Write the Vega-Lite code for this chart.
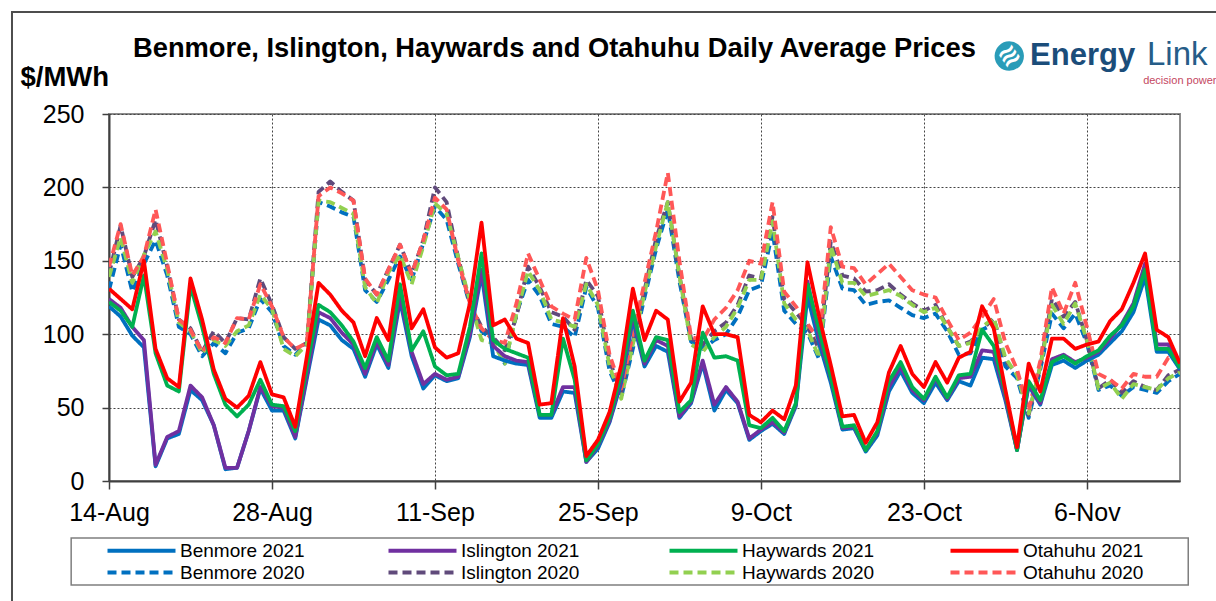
{
  "$schema": "https://vega.github.io/schema/vega-lite/v6.json",
  "width": 1071,
  "height": 367,
  "autosize": {"type": "none"},
  "padding": {"left": 109, "top": 114, "right": 36, "bottom": 120},
  "background": "white",
  "config": {
    "font": "Liberation Sans",
    "view": {"stroke": "#8c8c8c", "strokeWidth": 2},
    "axis": {"labelFont": "Liberation Sans", "titleFont": "Liberation Sans"},
    "legend": {
      "title": null,
      "orient": "none",
      "legendX": 22,
      "legendY": 426,
      "direction": "horizontal",
      "columns": 4,
      "gridAlign": "all",
      "columnPadding": 67,
      "rowPadding": 1,
      "padding": 0,
      "symbolType": "M-4,0H4",
      "symbolSize": 289,
      "symbolStrokeWidth": 4,
      "labelFontSize": 19,
      "labelFont": "Liberation Sans",
      "labelColor": "black",
      "labelOffset": 28,
      "labelLimit": 300
    }
  },
  "title": {
    "text": "Benmore, Islington, Haywards and Otahuhu Daily Average Prices",
    "font": "Liberation Sans",
    "fontSize": 27.3,
    "fontWeight": "bold",
    "color": "black",
    "anchor": "start",
    "frame": "group",
    "dx": 24,
    "dy": 55,
    "offset": 4
  },
  "data": {"values": [
    {"date":"2021-08-14","Benmore 2021":119,"Islington 2021":124,"Haywards 2021":122,"Otahuhu 2021":131,"Benmore 2020":130,"Islington 2020":141,"Haywards 2020":139,"Otahuhu 2020":146},
    {"date":"2021-08-15","Benmore 2021":112,"Islington 2021":118,"Haywards 2021":116,"Otahuhu 2021":124,"Benmore 2020":161,"Islington 2020":174,"Haywards 2020":166,"Otahuhu 2020":175},
    {"date":"2021-08-16","Benmore 2021":99,"Islington 2021":105,"Haywards 2021":105,"Otahuhu 2021":117,"Benmore 2020":129,"Islington 2020":139,"Haywards 2020":135,"Otahuhu 2020":140},
    {"date":"2021-08-17","Benmore 2021":91,"Islington 2021":96,"Haywards 2021":140,"Otahuhu 2021":150,"Benmore 2020":148,"Islington 2020":153,"Haywards 2020":154,"Otahuhu 2020":153},
    {"date":"2021-08-18","Benmore 2021":10,"Islington 2021":11,"Haywards 2021":87,"Otahuhu 2021":90,"Benmore 2020":164,"Islington 2020":178,"Haywards 2020":170,"Otahuhu 2020":185},
    {"date":"2021-08-19","Benmore 2021":29,"Islington 2021":30,"Haywards 2021":65,"Otahuhu 2021":70,"Benmore 2020":140,"Islington 2020":146,"Haywards 2020":144,"Otahuhu 2020":148},
    {"date":"2021-08-20","Benmore 2021":32,"Islington 2021":34,"Haywards 2021":61,"Otahuhu 2021":64,"Benmore 2020":105,"Islington 2020":110,"Haywards 2020":108,"Otahuhu 2020":110},
    {"date":"2021-08-21","Benmore 2021":62,"Islington 2021":65,"Haywards 2021":133,"Otahuhu 2021":138,"Benmore 2020":100,"Islington 2020":104,"Haywards 2020":102,"Otahuhu 2020":103},
    {"date":"2021-08-22","Benmore 2021":55,"Islington 2021":57,"Haywards 2021":105,"Otahuhu 2021":110,"Benmore 2020":85,"Islington 2020":88,"Haywards 2020":87,"Otahuhu 2020":88},
    {"date":"2021-08-23","Benmore 2021":38,"Islington 2021":38,"Haywards 2021":73,"Otahuhu 2021":76,"Benmore 2020":94,"Islington 2020":102,"Haywards 2020":96,"Otahuhu 2020":98},
    {"date":"2021-08-24","Benmore 2021":8,"Islington 2021":9,"Haywards 2021":52,"Otahuhu 2021":56,"Benmore 2020":87,"Islington 2020":94,"Haywards 2020":92,"Otahuhu 2020":94},
    {"date":"2021-08-25","Benmore 2021":9,"Islington 2021":9,"Haywards 2021":44,"Otahuhu 2021":50,"Benmore 2020":101,"Islington 2020":111,"Haywards 2020":102,"Otahuhu 2020":111},
    {"date":"2021-08-26","Benmore 2021":34,"Islington 2021":34,"Haywards 2021":52,"Otahuhu 2021":58,"Benmore 2020":104,"Islington 2020":110,"Haywards 2020":106,"Otahuhu 2020":110},
    {"date":"2021-08-27","Benmore 2021":63,"Islington 2021":64,"Haywards 2021":69,"Otahuhu 2021":81,"Benmore 2020":124,"Islington 2020":138,"Haywards 2020":127,"Otahuhu 2020":134},
    {"date":"2021-08-28","Benmore 2021":48,"Islington 2021":51,"Haywards 2021":52,"Otahuhu 2021":59,"Benmore 2020":115,"Islington 2020":120,"Haywards 2020":117,"Otahuhu 2020":119},
    {"date":"2021-08-29","Benmore 2021":48,"Islington 2021":50,"Haywards 2021":51,"Otahuhu 2021":57,"Benmore 2020":92,"Islington 2020":98,"Haywards 2020":90,"Otahuhu 2020":98},
    {"date":"2021-08-30","Benmore 2021":29,"Islington 2021":30,"Haywards 2021":34,"Otahuhu 2021":37,"Benmore 2020":86,"Islington 2020":90,"Haywards 2020":85,"Otahuhu 2020":90},
    {"date":"2021-08-31","Benmore 2021":70,"Islington 2021":72,"Haywards 2021":78,"Otahuhu 2021":85,"Benmore 2020":94,"Islington 2020":94,"Haywards 2020":93,"Otahuhu 2020":94},
    {"date":"2021-09-01","Benmore 2021":110,"Islington 2021":115,"Haywards 2021":120,"Otahuhu 2021":135,"Benmore 2020":190,"Islington 2020":197,"Haywards 2020":191,"Otahuhu 2020":194},
    {"date":"2021-09-02","Benmore 2021":106,"Islington 2021":111,"Haywards 2021":115,"Otahuhu 2021":127,"Benmore 2020":187,"Islington 2020":204,"Haywards 2020":190,"Otahuhu 2020":200},
    {"date":"2021-09-03","Benmore 2021":96,"Islington 2021":101,"Haywards 2021":106,"Otahuhu 2021":116,"Benmore 2020":183,"Islington 2020":197,"Haywards 2020":186,"Otahuhu 2020":196},
    {"date":"2021-09-04","Benmore 2021":90,"Islington 2021":93,"Haywards 2021":95,"Otahuhu 2021":108,"Benmore 2020":180,"Islington 2020":191,"Haywards 2020":182,"Otahuhu 2020":191},
    {"date":"2021-09-05","Benmore 2021":71,"Islington 2021":73,"Haywards 2021":77,"Otahuhu 2021":85,"Benmore 2020":130,"Islington 2020":137,"Haywards 2020":132,"Otahuhu 2020":138},
    {"date":"2021-09-06","Benmore 2021":93,"Islington 2021":95,"Haywards 2021":98,"Otahuhu 2021":111,"Benmore 2020":122,"Islington 2020":127,"Haywards 2020":121,"Otahuhu 2020":127},
    {"date":"2021-09-07","Benmore 2021":77,"Islington 2021":79,"Haywards 2021":82,"Otahuhu 2021":96,"Benmore 2020":137,"Islington 2020":144,"Haywards 2020":142,"Otahuhu 2020":144},
    {"date":"2021-09-08","Benmore 2021":123,"Islington 2021":126,"Haywards 2021":134,"Otahuhu 2021":149,"Benmore 2020":153,"Islington 2020":161,"Haywards 2020":154,"Otahuhu 2020":161},
    {"date":"2021-09-09","Benmore 2021":85,"Islington 2021":88,"Haywards 2021":89,"Otahuhu 2021":104,"Benmore 2020":137,"Islington 2020":141,"Haywards 2020":134,"Otahuhu 2020":141},
    {"date":"2021-09-10","Benmore 2021":63,"Islington 2021":66,"Haywards 2021":102,"Otahuhu 2021":117,"Benmore 2020":162,"Islington 2020":164,"Haywards 2020":160,"Otahuhu 2020":164},
    {"date":"2021-09-11","Benmore 2021":72,"Islington 2021":73,"Haywards 2021":78,"Otahuhu 2021":91,"Benmore 2020":187,"Islington 2020":200,"Haywards 2020":189,"Otahuhu 2020":193},
    {"date":"2021-09-12","Benmore 2021":68,"Islington 2021":69,"Haywards 2021":72,"Otahuhu 2021":84,"Benmore 2020":178,"Islington 2020":190,"Haywards 2020":182,"Otahuhu 2020":185},
    {"date":"2021-09-13","Benmore 2021":70,"Islington 2021":71,"Haywards 2021":73,"Otahuhu 2021":87,"Benmore 2020":148,"Islington 2020":152,"Haywards 2020":152,"Otahuhu 2020":150},
    {"date":"2021-09-14","Benmore 2021":98,"Islington 2021":100,"Haywards 2021":105,"Otahuhu 2021":121,"Benmore 2020":120,"Islington 2020":121,"Haywards 2020":123,"Otahuhu 2020":121},
    {"date":"2021-09-15","Benmore 2021":141,"Islington 2021":144,"Haywards 2021":155,"Otahuhu 2021":176,"Benmore 2020":102,"Islington 2020":105,"Haywards 2020":96,"Otahuhu 2020":104},
    {"date":"2021-09-16","Benmore 2021":85,"Islington 2021":92,"Haywards 2021":96,"Otahuhu 2021":106,"Benmore 2020":96,"Islington 2020":98,"Haywards 2020":94,"Otahuhu 2020":96},
    {"date":"2021-09-17","Benmore 2021":82,"Islington 2021":85,"Haywards 2021":90,"Otahuhu 2021":110,"Benmore 2020":80,"Islington 2020":89,"Haywards 2020":80,"Otahuhu 2020":94},
    {"date":"2021-09-18","Benmore 2021":80,"Islington 2021":82,"Haywards 2021":87,"Otahuhu 2021":97,"Benmore 2020":114,"Islington 2020":112,"Haywards 2020":114,"Otahuhu 2020":121},
    {"date":"2021-09-19","Benmore 2021":79,"Islington 2021":81,"Haywards 2021":84,"Otahuhu 2021":94,"Benmore 2020":137,"Islington 2020":146,"Haywards 2020":143,"Otahuhu 2020":155},
    {"date":"2021-09-20","Benmore 2021":43,"Islington 2021":45,"Haywards 2021":45,"Otahuhu 2021":52,"Benmore 2020":126,"Islington 2020":132,"Haywards 2020":130,"Otahuhu 2020":137},
    {"date":"2021-09-21","Benmore 2021":43,"Islington 2021":45,"Haywards 2021":45,"Otahuhu 2021":53,"Benmore 2020":107,"Islington 2020":115,"Haywards 2020":110,"Otahuhu 2020":119},
    {"date":"2021-09-22","Benmore 2021":61,"Islington 2021":64,"Haywards 2021":97,"Otahuhu 2021":111,"Benmore 2020":105,"Islington 2020":112,"Haywards 2020":108,"Otahuhu 2020":114},
    {"date":"2021-09-23","Benmore 2021":60,"Islington 2021":64,"Haywards 2021":69,"Otahuhu 2021":78,"Benmore 2020":98,"Islington 2020":103,"Haywards 2020":105,"Otahuhu 2020":110},
    {"date":"2021-09-24","Benmore 2021":13,"Islington 2021":13,"Haywards 2021":14,"Otahuhu 2021":17,"Benmore 2020":132,"Islington 2020":137,"Haywards 2020":134,"Otahuhu 2020":152},
    {"date":"2021-09-25","Benmore 2021":22,"Islington 2021":24,"Haywards 2021":25,"Otahuhu 2021":28,"Benmore 2020":118,"Islington 2020":126,"Haywards 2020":120,"Otahuhu 2020":130},
    {"date":"2021-09-26","Benmore 2021":40,"Islington 2021":41,"Haywards 2021":43,"Otahuhu 2021":47,"Benmore 2020":75,"Islington 2020":82,"Haywards 2020":78,"Otahuhu 2020":86},
    {"date":"2021-09-27","Benmore 2021":67,"Islington 2021":70,"Haywards 2021":73,"Otahuhu 2021":79,"Benmore 2020":57,"Islington 2020":60,"Haywards 2020":56,"Otahuhu 2020":63},
    {"date":"2021-09-28","Benmore 2021":110,"Islington 2021":113,"Haywards 2021":116,"Otahuhu 2021":131,"Benmore 2020":90,"Islington 2020":95,"Haywards 2020":93,"Otahuhu 2020":100},
    {"date":"2021-09-29","Benmore 2021":78,"Islington 2021":80,"Haywards 2021":82,"Otahuhu 2021":96,"Benmore 2020":125,"Islington 2020":130,"Haywards 2020":128,"Otahuhu 2020":135},
    {"date":"2021-09-30","Benmore 2021":92,"Islington 2021":96,"Haywards 2021":98,"Otahuhu 2021":116,"Benmore 2020":158,"Islington 2020":165,"Haywards 2020":160,"Otahuhu 2020":170},
    {"date":"2021-10-01","Benmore 2021":88,"Islington 2021":92,"Haywards 2021":96,"Otahuhu 2021":110,"Benmore 2020":185,"Islington 2020":190,"Haywards 2020":190,"Otahuhu 2020":210},
    {"date":"2021-10-02","Benmore 2021":43,"Islington 2021":44,"Haywards 2021":47,"Otahuhu 2021":54,"Benmore 2020":136,"Islington 2020":140,"Haywards 2020":140,"Otahuhu 2020":150},
    {"date":"2021-10-03","Benmore 2021":53,"Islington 2021":54,"Haywards 2021":55,"Otahuhu 2021":67,"Benmore 2020":95,"Islington 2020":97,"Haywards 2020":93,"Otahuhu 2020":98},
    {"date":"2021-10-04","Benmore 2021":80,"Islington 2021":82,"Haywards 2021":101,"Otahuhu 2021":119,"Benmore 2020":90,"Islington 2020":93,"Haywards 2020":88,"Otahuhu 2020":96},
    {"date":"2021-10-05","Benmore 2021":48,"Islington 2021":52,"Haywards 2021":84,"Otahuhu 2021":100,"Benmore 2020":96,"Islington 2020":102,"Haywards 2020":98,"Otahuhu 2020":110},
    {"date":"2021-10-06","Benmore 2021":62,"Islington 2021":64,"Haywards 2021":85,"Otahuhu 2021":100,"Benmore 2020":100,"Islington 2020":108,"Haywards 2020":105,"Otahuhu 2020":118},
    {"date":"2021-10-07","Benmore 2021":53,"Islington 2021":54,"Haywards 2021":82,"Otahuhu 2021":98,"Benmore 2020":112,"Islington 2020":120,"Haywards 2020":118,"Otahuhu 2020":130},
    {"date":"2021-10-08","Benmore 2021":28,"Islington 2021":29,"Haywards 2021":38,"Otahuhu 2021":45,"Benmore 2020":130,"Islington 2020":140,"Haywards 2020":137,"Otahuhu 2020":150},
    {"date":"2021-10-09","Benmore 2021":34,"Islington 2021":35,"Haywards 2021":36,"Otahuhu 2021":40,"Benmore 2020":133,"Islington 2020":138,"Haywards 2020":137,"Otahuhu 2020":148},
    {"date":"2021-10-10","Benmore 2021":39,"Islington 2021":40,"Haywards 2021":43,"Otahuhu 2021":48,"Benmore 2020":170,"Islington 2020":180,"Haywards 2020":177,"Otahuhu 2020":190},
    {"date":"2021-10-11","Benmore 2021":32,"Islington 2021":33,"Haywards 2021":34,"Otahuhu 2021":42,"Benmore 2020":116,"Islington 2020":124,"Haywards 2020":121,"Otahuhu 2020":129},
    {"date":"2021-10-12","Benmore 2021":51,"Islington 2021":52,"Haywards 2021":53,"Otahuhu 2021":65,"Benmore 2020":107,"Islington 2020":115,"Haywards 2020":110,"Otahuhu 2020":119},
    {"date":"2021-10-13","Benmore 2021":126,"Islington 2021":136,"Haywards 2021":134,"Otahuhu 2021":149,"Benmore 2020":101,"Islington 2020":105,"Haywards 2020":103,"Otahuhu 2020":107},
    {"date":"2021-10-14","Benmore 2021":94,"Islington 2021":98,"Haywards 2021":103,"Otahuhu 2021":112,"Benmore 2020":83,"Islington 2020":90,"Haywards 2020":84,"Otahuhu 2020":96},
    {"date":"2021-10-15","Benmore 2021":67,"Islington 2021":70,"Haywards 2021":71,"Otahuhu 2021":79,"Benmore 2020":153,"Islington 2020":163,"Haywards 2020":160,"Otahuhu 2020":173},
    {"date":"2021-10-16","Benmore 2021":35,"Islington 2021":36,"Haywards 2021":37,"Otahuhu 2021":44,"Benmore 2020":131,"Islington 2020":140,"Haywards 2020":135,"Otahuhu 2020":146},
    {"date":"2021-10-17","Benmore 2021":36,"Islington 2021":37,"Haywards 2021":38,"Otahuhu 2021":45,"Benmore 2020":130,"Islington 2020":138,"Haywards 2020":135,"Otahuhu 2020":145},
    {"date":"2021-10-18","Benmore 2021":20,"Islington 2021":21,"Haywards 2021":21,"Otahuhu 2021":26,"Benmore 2020":120,"Islington 2020":129,"Haywards 2020":126,"Otahuhu 2020":134},
    {"date":"2021-10-19","Benmore 2021":31,"Islington 2021":33,"Haywards 2021":34,"Otahuhu 2021":40,"Benmore 2020":122,"Islington 2020":130,"Haywards 2020":128,"Otahuhu 2020":141},
    {"date":"2021-10-20","Benmore 2021":61,"Islington 2021":64,"Haywards 2021":68,"Otahuhu 2021":74,"Benmore 2020":123,"Islington 2020":134,"Haywards 2020":130,"Otahuhu 2020":148},
    {"date":"2021-10-21","Benmore 2021":75,"Islington 2021":78,"Haywards 2021":81,"Otahuhu 2021":92,"Benmore 2020":118,"Islington 2020":127,"Haywards 2020":126,"Otahuhu 2020":139},
    {"date":"2021-10-22","Benmore 2021":60,"Islington 2021":62,"Haywards 2021":64,"Otahuhu 2021":73,"Benmore 2020":113,"Islington 2020":121,"Haywards 2020":120,"Otahuhu 2020":130},
    {"date":"2021-10-23","Benmore 2021":53,"Islington 2021":55,"Haywards 2021":56,"Otahuhu 2021":64,"Benmore 2020":111,"Islington 2020":116,"Haywards 2020":115,"Otahuhu 2020":127},
    {"date":"2021-10-24","Benmore 2021":67,"Islington 2021":70,"Haywards 2021":71,"Otahuhu 2021":81,"Benmore 2020":114,"Islington 2020":120,"Haywards 2020":118,"Otahuhu 2020":125},
    {"date":"2021-10-25","Benmore 2021":55,"Islington 2021":56,"Haywards 2021":57,"Otahuhu 2021":67,"Benmore 2020":102,"Islington 2020":105,"Haywards 2020":105,"Otahuhu 2020":110},
    {"date":"2021-10-26","Benmore 2021":68,"Islington 2021":70,"Haywards 2021":72,"Otahuhu 2021":84,"Benmore 2020":86,"Islington 2020":92,"Haywards 2020":92,"Otahuhu 2020":96},
    {"date":"2021-10-27","Benmore 2021":65,"Islington 2021":71,"Haywards 2021":73,"Otahuhu 2021":88,"Benmore 2020":87,"Islington 2020":95,"Haywards 2020":94,"Otahuhu 2020":101},
    {"date":"2021-10-28","Benmore 2021":84,"Islington 2021":89,"Haywards 2021":103,"Otahuhu 2021":119,"Benmore 2020":103,"Islington 2020":103,"Haywards 2020":105,"Otahuhu 2020":112},
    {"date":"2021-10-29","Benmore 2021":83,"Islington 2021":88,"Haywards 2021":92,"Otahuhu 2021":104,"Benmore 2020":107,"Islington 2020":111,"Haywards 2020":111,"Otahuhu 2020":124},
    {"date":"2021-10-30","Benmore 2021":55,"Islington 2021":57,"Haywards 2021":60,"Otahuhu 2021":62,"Benmore 2020":78,"Islington 2020":82,"Haywards 2020":84,"Otahuhu 2020":94},
    {"date":"2021-10-31","Benmore 2021":21,"Islington 2021":21,"Haywards 2021":21,"Otahuhu 2021":23,"Benmore 2020":70,"Islington 2020":73,"Haywards 2020":72,"Otahuhu 2020":76},
    {"date":"2021-11-01","Benmore 2021":65,"Islington 2021":66,"Haywards 2021":68,"Otahuhu 2021":80,"Benmore 2020":43,"Islington 2020":45,"Haywards 2020":46,"Otahuhu 2020":48},
    {"date":"2021-11-02","Benmore 2021":52,"Islington 2021":53,"Haywards 2021":55,"Otahuhu 2021":61,"Benmore 2020":76,"Islington 2020":78,"Haywards 2020":78,"Otahuhu 2020":82},
    {"date":"2021-11-03","Benmore 2021":79,"Islington 2021":83,"Haywards 2021":81,"Otahuhu 2021":97,"Benmore 2020":114,"Islington 2020":124,"Haywards 2020":120,"Otahuhu 2020":132},
    {"date":"2021-11-04","Benmore 2021":82,"Islington 2021":86,"Haywards 2021":85,"Otahuhu 2021":97,"Benmore 2020":104,"Islington 2020":112,"Haywards 2020":107,"Otahuhu 2020":114},
    {"date":"2021-11-05","Benmore 2021":77,"Islington 2021":81,"Haywards 2021":80,"Otahuhu 2021":90,"Benmore 2020":114,"Islington 2020":122,"Haywards 2020":121,"Otahuhu 2020":135},
    {"date":"2021-11-06","Benmore 2021":82,"Islington 2021":84,"Haywards 2021":85,"Otahuhu 2021":93,"Benmore 2020":94,"Islington 2020":96,"Haywards 2020":96,"Otahuhu 2020":105},
    {"date":"2021-11-07","Benmore 2021":86,"Islington 2021":88,"Haywards 2021":89,"Otahuhu 2021":95,"Benmore 2020":62,"Islington 2020":63,"Haywards 2020":63,"Otahuhu 2020":73},
    {"date":"2021-11-08","Benmore 2021":94,"Islington 2021":97,"Haywards 2021":99,"Otahuhu 2021":109,"Benmore 2020":65,"Islington 2020":69,"Haywards 2020":67,"Otahuhu 2020":69},
    {"date":"2021-11-09","Benmore 2021":102,"Islington 2021":107,"Haywards 2021":106,"Otahuhu 2021":117,"Benmore 2020":58,"Islington 2020":60,"Haywards 2020":56,"Otahuhu 2020":63},
    {"date":"2021-11-10","Benmore 2021":115,"Islington 2021":121,"Haywards 2021":119,"Otahuhu 2021":135,"Benmore 2020":64,"Islington 2020":68,"Haywards 2020":66,"Otahuhu 2020":73},
    {"date":"2021-11-11","Benmore 2021":139,"Islington 2021":148,"Haywards 2021":144,"Otahuhu 2021":155,"Benmore 2020":62,"Islington 2020":64,"Haywards 2020":64,"Otahuhu 2020":71},
    {"date":"2021-11-12","Benmore 2021":88,"Islington 2021":93,"Haywards 2021":90,"Otahuhu 2021":103,"Benmore 2020":60,"Islington 2020":62,"Haywards 2020":62,"Otahuhu 2020":71},
    {"date":"2021-11-13","Benmore 2021":88,"Islington 2021":93,"Haywards 2021":90,"Otahuhu 2021":98,"Benmore 2020":68,"Islington 2020":72,"Haywards 2020":70,"Otahuhu 2020":84},
    {"date":"2021-11-14","Benmore 2021":76,"Islington 2021":78,"Haywards 2021":77,"Otahuhu 2021":80,"Benmore 2020":73,"Islington 2020":76,"Haywards 2020":74,"Otahuhu 2020":82}
  ]},
  "layer": [
    {
      "data": {"values": [{}]},
      "mark": {"type": "rect", "fill": null, "stroke": "#4d4d4d", "strokeWidth": 2, "clip": false},
      "encoding": {
        "x": {"datum": {"year": 2021, "month": 8, "date": 5, "hours": 16, "utc": true}, "type": "temporal"},
        "x2": {"datum": {"year": 2021, "month": 11, "date": 19, "utc": true}},
        "y": {"datum": 319.5, "type": "quantitative"},
        "y2": {"datum": -90}
      }
    },
    {
      "data": {"values": [{}]},
      "mark": {"type": "rect", "fill": null, "stroke": "#7f7f7f", "strokeWidth": 1.5, "clip": false},
      "encoding": {
        "x": {"datum": {"year": 2021, "month": 8, "date": 10, "hours": 18, "utc": true}, "type": "temporal"},
        "x2": {"datum": {"year": 2021, "month": 11, "date": 14, "hours": 17, "utc": true}},
        "y": {"datum": -38.8, "type": "quantitative"},
        "y2": {"datum": -70.8}
      }
    },
    {
      "transform": [
        {"fold": ["Benmore 2020", "Islington 2020", "Haywards 2020", "Otahuhu 2020"], "as": ["series", "price"]}
      ],
      "mark": {"type": "line", "strokeWidth": 3.8, "strokeJoin": "round", "clip": true},
      "encoding": {
        "x": {
          "field": "date", "type": "temporal",
          "scale": {"type": "utc", "domain": [{"year": 2021, "month": 8, "date": 14, "utc": true}, {"year": 2021, "month": 11, "date": 14, "utc": true}], "nice": false},
          "axis": {
            "values": [
              {"year": 2021, "month": 8, "date": 14, "utc": true},
              {"year": 2021, "month": 8, "date": 28, "utc": true},
              {"year": 2021, "month": 9, "date": 11, "utc": true},
              {"year": 2021, "month": 9, "date": 25, "utc": true},
              {"year": 2021, "month": 10, "date": 9, "utc": true},
              {"year": 2021, "month": 10, "date": 23, "utc": true},
              {"year": 2021, "month": 11, "date": 6, "utc": true}
            ],
            "format": "%-d-%b",
            "title": null,
            "labelFontSize": 25,
            "labelColor": "black",
            "labelPadding": 11,
            "labelFlush": false,
            "labelOverlap": false,
            "tickSize": 8,
            "tickColor": "#404040",
            "tickWidth": 1.5,
            "domainColor": "#404040",
            "domainWidth": 2,
            "grid": true,
            "gridColor": "#444444",
            "gridDash": [2, 2],
            "gridWidth": 1
          }
        },
        "y": {
          "field": "price", "type": "quantitative",
          "scale": {"domain": [0, 250], "nice": false, "zero": true},
          "axis": {
            "values": [0, 50, 100, 150, 200, 250],
            "title": "$/MWh",
            "titleFontSize": 27.5,
            "titleFontWeight": "bold",
            "titleColor": "black",
            "titleAngle": 0,
            "titleAlign": "left",
            "titleBaseline": "alphabetic",
            "titleX": -89,
            "titleY": -29,
            "labelFontSize": 25,
            "labelColor": "black",
            "labelPadding": 18,
            "tickSize": 7,
            "tickColor": "#404040",
            "tickWidth": 1.5,
            "domainColor": "#404040",
            "domainWidth": 2,
            "grid": true,
            "gridColor": "#444444",
            "gridDash": [2, 2],
            "gridWidth": 1
          }
        },
        "color": {
          "field": "series", "type": "nominal",
          "scale": {
            "domain": ["Benmore 2021", "Islington 2021", "Haywards 2021", "Otahuhu 2021", "Benmore 2020", "Islington 2020", "Haywards 2020", "Otahuhu 2020"],
            "range": ["#0070C0", "#7030A0", "#00B050", "#FF0000", "#0070C0", "#604A7B", "#92D050", "#FF5757"]
          }
        },
        "strokeDash": {
          "field": "series", "type": "nominal",
          "scale": {
            "domain": ["Benmore 2021", "Islington 2021", "Haywards 2021", "Otahuhu 2021", "Benmore 2020", "Islington 2020", "Haywards 2020", "Otahuhu 2020"],
            "range": [[1, 0], [1, 0], [1, 0], [1, 0], [9, 5], [9, 5], [9, 5], [9, 5]]
          }
        }
      }
    },
    {
      "transform": [
        {"fold": ["Benmore 2021", "Islington 2021", "Haywards 2021", "Otahuhu 2021"], "as": ["series", "price"]}
      ],
      "mark": {"type": "line", "strokeWidth": 3.8, "strokeJoin": "round", "clip": true},
      "encoding": {
        "x": {"field": "date", "type": "temporal"},
        "y": {"field": "price", "type": "quantitative"},
        "color": {"field": "series", "type": "nominal"},
        "strokeDash": {"field": "series", "type": "nominal"}
      }
    },
    {
      "data": {"values": [{}]},
      "mark": {"type": "point", "filled": true, "shape": "circle", "color": "#2a9cb8", "opacity": 1, "size": 860, "clip": false},
      "encoding": {
        "x": {"datum": {"year": 2021, "month": 10, "date": 30, "hours": 8, "utc": true}, "type": "temporal"},
        "y": {"datum": 289.5, "type": "quantitative"}
      }
    },
    {
      "data": {"values": [{"t": "≋"}]},
      "mark": {"type": "text", "font": "DejaVu Sans", "fontSize": 26, "fontWeight": "bold", "color": "white", "angle": 325, "align": "center", "baseline": "middle", "clip": false},
      "encoding": {
        "x": {"datum": {"year": 2021, "month": 10, "date": 30, "hours": 8, "utc": true}, "type": "temporal"},
        "y": {"datum": 289.5, "type": "quantitative"},
        "text": {"field": "t"}
      }
    },
    {
      "data": {"values": [{"t": "Energy"}]},
      "mark": {"type": "text", "font": "Liberation Sans", "fontSize": 31, "fontWeight": "bold", "color": "#1b4d7a", "align": "left", "baseline": "alphabetic", "clip": false},
      "encoding": {
        "x": {"datum": {"year": 2021, "month": 11, "date": 1, "hours": 3, "utc": true}, "type": "temporal"},
        "y": {"datum": 283.4, "type": "quantitative"},
        "text": {"field": "t"}
      }
    },
    {
      "data": {"values": [{"t": "Link"}]},
      "mark": {"type": "text", "font": "Liberation Sans", "fontSize": 33, "color": "#265d88", "align": "left", "baseline": "alphabetic", "clip": false},
      "encoding": {
        "x": {"datum": {"year": 2021, "month": 11, "date": 11, "hours": 4, "utc": true}, "type": "temporal"},
        "y": {"datum": 283.4, "type": "quantitative"},
        "text": {"field": "t"}
      }
    },
    {
      "data": {"values": [{"t": "decision power"}]},
      "mark": {"type": "text", "font": "Liberation Sans", "fontSize": 11, "color": "#c4475f", "align": "left", "baseline": "alphabetic", "clip": false},
      "encoding": {
        "x": {"datum": {"year": 2021, "month": 11, "date": 10, "hours": 20, "utc": true}, "type": "temporal"},
        "y": {"datum": 270.4, "type": "quantitative"},
        "text": {"field": "t"}
      }
    }
  ]
}
